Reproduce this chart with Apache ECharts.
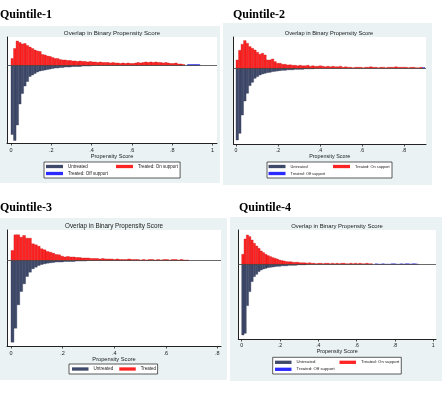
<!DOCTYPE html>
<html>
<head>
<meta charset="utf-8">
<script src="https://cdn.jsdelivr.net/npm/echarts@6/dist/echarts.min.js"></script>
<style>
  html, body { margin: 0; padding: 0; background: #fff; }
  #chart { width: 442px; height: 395px; }
</style>
</head>
<body>
<div id="chart"></div>
<script>
// x axis ticks
var tickValues = [0, 0.2, 0.4, 0.6, 0.8, 1];
var tickLabels = ['0', '.2', '.4', '.6', '.8', '1'];

// bar heights (same unit as each panel's y axis)
// Quintile-1
var q1BinWidth = 0.0125;
var q1Treated = [7, 17, 24.5, 23, 21.5, 22, 20, 18.5, 17, 15.5, 14.5, 14, 11, 10.5, 9.5, 9, 8, 7, 7, 6, 5.5,
  5.5, 5, 5, 4.5, 4.5, 4, 4.5, 4, 4, 3.5, 4, 3.5, 3.5, 3, 3.5, 3, 3, 3, 2.5, 3,
  2.5, 2.5, 2, 2.5, 2, 2.5, 2, 2, 2.5, 3, 2.5, 3, 3.5, 3, 3.5, 3, 3.5, 3, 3, 2.5, 3, 2.5,
  2, 2, 2.5, 1.5, 1.5, 1];
var q1OffStart = 70;
var q1Off = [1, 1, 1, 1, 1];
var q1Untreated = [69, 75, 59.5, 38.5, 28, 20.5, 16, 11, 9.5, 8, 6.5, 5.5, 5, 4.5, 4, 3.5, 3, 2.5, 2.5, 2, 2,
  1.5, 1.5, 1.5, 1, 1, 1, 1, 0.5, 0.5, 0.5, 0.5];

// Quintile-2
var q2BinWidth = 0.012;
var q2Treated = [8.3, 18, 24, 27.7, 25, 21.7, 20, 18.3, 16, 14, 15, 13.3, 8.3, 8.3, 9.3, 6.7, 5, 5, 4, 4, 3.3,
  3.5, 3, 3, 2.5, 3, 2.5, 2.5, 3, 2, 2.5, 2, 2, 2.5, 2, 1.5, 2, 1.5, 2, 1.5, 1.5, 2,
  1, 1.5, 1, 1, 0.5, 1, 1, 1, 0.5, 1, 1, 1.5, 1, 1, 0.5, 1, 1, 0.5, 1, 1, 1, 1.5, 1, 1, 1, 1,
  0.5, 1, 1, 0.5, 0.5, 1];
var q2OffStart = 74;
var q2Off = [0.7];
var q2Untreated = [71.7, 65, 46.7, 32.7, 25, 17.3, 14, 10, 8.3, 6.7, 5.7, 5, 4.3, 4, 3.3, 3, 2.7, 2.3, 2, 2,
  1.5, 1.5, 1.5, 1, 1, 1, 1, 0.5, 0.5, 0.5, 0.5];

// Quintile-3
var q3BinWidth = 0.0113;
var q3Treated = [10, 25.7, 25.7, 23.3, 25, 22.3, 22.3, 16.7, 15.7, 14.3, 11.7, 10.7, 9, 8.3, 7.3, 6, 5.7,
  4.3, 3.5, 4, 3.5, 3.5, 3, 3, 2.5, 2.5, 2.5, 2, 2, 2, 1.5, 2, 1.5, 1.5, 1.5, 1,
  1.5, 1, 1, 1, 1.5, 1, 1, 1, 0.5, 1, 0.5, 1, 1, 0.5, 1, 0.5, 1, 1, 0.5, 1, 1, 0.5, 1, 0.5, 0.5];
var q3Untreated = [81.7, 67.7, 44.3, 31, 23.3, 16, 11.7, 8.3, 6.7, 5, 4, 3.3, 2.7, 2.3, 2, 1.5, 1.5, 1.5, 1, 1,
  1, 1, 0.5, 0.5, 0.5, 0.5];

// Quintile-4
var q4BinWidth = 0.012;
var q4Treated = [10, 25.3, 29.3, 27.7, 24.3, 21, 18.3, 16, 13.3, 11.7, 10, 8.7, 7.7, 6.7, 6, 5.3, 4.3, 3.7, 3.3, 2.7,
  2.5, 2.5, 2, 2, 2, 1.5, 1.5, 1.5, 1, 1.5, 1, 1, 0.5, 1, 1, 0.5, 1, 1, 0.5, 1, 0.5, 1, 0.5, 1, 1,
  0.5, 0.5, 1, 0.5, 1, 0.5, 1, 0.5, 0.5, 1, 0.5, 0.5];
var q4OffStart = 58;
var q4Off = [0.5, 0, 0, 0.5, 0, 0, 0, 0.5, 0.5, 0, 0, 0.5, 0, 0.5, 0.5, 0, 0.5, 0.5, 0];
var q4Untreated = [70.7, 69, 41.3, 27.3, 17.3, 12.3, 10, 7.3, 5.7, 4.7, 4, 3.3, 3, 2.7, 2.3, 2, 2, 1.5, 1.5, 1.5,
  1, 1, 1, 1, 0.5, 0.5, 0.5, 0.5];

var colorUntreated = '#3f4a6b';
var colorTreated = '#ff2424';
var colorOff = '#2b2bff';

// [x0, x1, h] per bin; untreated drawn below zero
function toBins(values, width, start, sign) {
  var out = [];
  for (var i = 0; i < values.length; i++) {
    var x0 = (start + i) * width;
    out.push([x0, x0 + width, sign * values[i]]);
  }
  return out;
}

// bar outline a bit darker than the fill, like the Stata histogram
function makeRender(edge) {
  return function (params, api) {
    var p0 = api.coord([api.value(0), 0]);
    var p1 = api.coord([api.value(1), api.value(2)]);
    return {
      type: 'rect',
      shape: {
        x: p0[0],
        y: Math.min(p0[1], p1[1]),
        width: p1[0] - p0[0],
        height: Math.abs(p1[1] - p0[1])
      },
      style: { fill: api.visual('color'), stroke: edge, lineWidth: 0.35 }
    };
  };
}

function tickText(v) {
  for (var i = 0; i < tickValues.length; i++) {
    if (Math.abs(tickValues[i] - v) < 1e-6) return tickLabels[i];
  }
  return '';
}

// layout of the four panels
var panels = [
  { head: 'Quintile-1', headX: 0, headY: 14.5, bg: [0, 26, 220, 157],
    grid: { left: 7, top: 37, width: 210, height: 106 },
    xMin: -0.0199, xMax: 1.0223, yMin: -77.5, yMax: 28.5, ticks: 6,
    titleX: 112, titleY: 33.5, titleSize: 6.2, tickSize: 5.5, nameSize: 5.6 },
  { head: 'Quintile-2', headX: 233, headY: 14.5, bg: [223, 23, 209, 162],
    grid: { left: 233.5, top: 37, width: 192.5, height: 107 },
    xMin: -0.0119, xMax: 0.9048, yMin: -75.7, yMax: 31.3, ticks: 5,
    titleX: 329, titleY: 33.5, titleSize: 5.7, tickSize: 5.2, nameSize: 5.4 },
  { head: 'Quintile-3', headX: 0, headY: 208.3, bg: [0, 218, 227, 162],
    grid: { left: 7, top: 230, width: 214, height: 116 },
    xMin: -0.0155, xMax: 0.814, yMin: -85.5, yMax: 30.5, ticks: 5,
    titleX: 114, titleY: 226, titleSize: 6.3, tickSize: 5.5, nameSize: 5.7 },
  { head: 'Quintile-4', headX: 239, headY: 208.3, bg: [230, 217, 212, 164],
    grid: { left: 238.3, top: 230, width: 197.7, height: 109 },
    xMin: -0.0177, xMax: 1.0141, yMin: -74.7, yMax: 34.3, ticks: 6,
    titleX: 337, titleY: 226, titleSize: 5.9, tickSize: 5.2, nameSize: 5.4 }
];

var graphics = [];
var grids = [];
var xAxes = [];
var yAxes = [];
panels.forEach(function (p, i) {
  graphics.push({ type: 'rect', z: -10, shape: { x: p.bg[0], y: p.bg[1], width: p.bg[2], height: p.bg[3] },
    style: { fill: '#eaf2f3' } });
  graphics.push({ type: 'text', x: p.headX, y: p.headY,
    style: { text: p.head, fontFamily: 'Liberation Serif', fontWeight: 'bold', fontSize: 12,
      fill: '#000', verticalAlign: 'middle' } });
  graphics.push({ type: 'text', x: p.titleX, y: p.titleY,
    style: { text: 'Overlap in Binary Propensity Score', fontFamily: 'Liberation Sans', fontSize: p.titleSize,
      fill: '#1a1a1a', align: 'center', verticalAlign: 'middle' } });

  grids.push({ left: p.grid.left, top: p.grid.top, width: p.grid.width, height: p.grid.height,
    show: true, backgroundColor: '#fff', borderWidth: 0, outerBoundsMode: 'none' });

  var ticks = tickValues.slice(0, p.ticks);
  xAxes.push({
    type: 'value', gridIndex: i, min: p.xMin, max: p.xMax,
    name: 'Propensity Score', nameLocation: 'middle', nameGap: 10,
    nameTextStyle: { fontFamily: 'Liberation Sans', fontSize: p.nameSize, color: '#1a1a1a' },
    axisLine: { show: true, onZero: false, lineStyle: { color: '#222', width: 1 } },
    axisTick: { show: true, length: 2.5, customValues: ticks, lineStyle: { color: '#222', width: 0.8 } },
    axisLabel: { show: true, customValues: ticks, margin: 4, fontFamily: 'Liberation Sans',
      fontSize: p.tickSize, color: '#1a1a1a', formatter: tickText },
    splitLine: { show: false }
  });
  yAxes.push({
    type: 'value', gridIndex: i, min: p.yMin, max: p.yMax,
    axisLine: { show: true, onZero: false, lineStyle: { color: '#222', width: 1 } },
    axisTick: { show: false }, axisLabel: { show: false }, splitLine: { show: false }
  });
});

var edgeColors = {};
edgeColors[colorUntreated] = '#2e3752';
edgeColors[colorTreated] = '#c81414';
edgeColors[colorOff] = '#1a1ac8';

function barSeries(name, color, idx, data, withZero) {
  var s = {
    type: 'custom', name: name, xAxisIndex: idx, yAxisIndex: idx,
    renderItem: makeRender(edgeColors[color]), encode: { x: [0, 1], y: 2 },
    itemStyle: { color: color }, data: data, silent: true
  };
  if (withZero) {
    s.markLine = { silent: true, symbol: ['none', 'none'], label: { show: false }, z: 10,
      lineStyle: { color: '#444', width: 0.8, type: 'solid' }, data: [{ yAxis: 0 }] };
  }
  return s;
}

var series = [
  barSeries('Untreated', colorUntreated, 0, toBins(q1Untreated, q1BinWidth, 0, -1), false),
  barSeries('Treated: On support', colorTreated, 0, toBins(q1Treated, q1BinWidth, 0, 1), false),
  barSeries('Treated: Off support', colorOff, 0, toBins(q1Off, q1BinWidth, q1OffStart, 1), true),
  barSeries('Untreated', colorUntreated, 1, toBins(q2Untreated, q2BinWidth, 0, -1), false),
  barSeries('Treated: On support', colorTreated, 1, toBins(q2Treated, q2BinWidth, 0, 1), false),
  barSeries('Treated: Off support', colorOff, 1, toBins(q2Off, q2BinWidth, q2OffStart, 1), true),
  barSeries('Untreated', colorUntreated, 2, toBins(q3Untreated, q3BinWidth, 0, -1), false),
  barSeries('Treated', colorTreated, 2, toBins(q3Treated, q3BinWidth, 0, 1), true),
  barSeries('Untreated', colorUntreated, 3, toBins(q4Untreated, q4BinWidth, 0, -1), false),
  barSeries('Treated: On support', colorTreated, 3, toBins(q4Treated, q4BinWidth, 0, 1), false),
  barSeries('Treated: Off support', colorOff, 3, toBins(q4Off, q4BinWidth, q4OffStart, 1), true)
];

function legendBox(left, top, pad, width, fontSize, gap, iw, items) {
  return {
    left: left, top: top, padding: pad, width: width, orient: 'horizontal',
    itemGap: gap, itemWidth: iw, itemHeight: 3.3, icon: 'rect', selectedMode: false,
    backgroundColor: '#fff', borderColor: '#333', borderWidth: 0.8, borderRadius: 0,
    textStyle: { fontFamily: 'Liberation Sans', fontSize: fontSize, lineHeight: 5, color: '#1a1a1a' },
    data: items
  };
}

var legends = [
  legendBox(44, 162, 2, 140, 4.5, 2, 17, [
    { name: 'Untreated', textStyle: { width: 46 } },
    { name: 'Treated: On support', textStyle: { width: 40 } },
    { name: 'Treated: Off support' }]),
  legendBox(267, 162, [2, 1.5, 2, 1.5], 128, 3.9, 2, 17, [
    { name: 'Untreated', textStyle: { width: 40.5 } },
    { name: 'Treated: On support', textStyle: { width: 35.5 } },
    { name: 'Treated: Off support' }]),
  legendBox(69, 364, [2.5, 1.5, 2.5, 3], 120, 4.5, 6, 16.5, [
    { name: 'Untreated' }, { name: 'Treated' }]),
  legendBox(272.7, 357.3, [2.5, 2, 2.2, 2.3], 132, 4.3, 2, 16.5, [
    { name: 'Untreated', textStyle: { width: 41 } },
    { name: 'Treated: On support', textStyle: { width: 37.7 } },
    { name: 'Treated: Off support' }])
];

var myChart = echarts.init(document.getElementById('chart'));
myChart.setOption({
  animation: false,
  backgroundColor: '#fff',
  graphic: { elements: graphics },
  grid: grids,
  xAxis: xAxes,
  yAxis: yAxes,
  legend: legends,
  series: series
});
</script>
</body>
</html>
